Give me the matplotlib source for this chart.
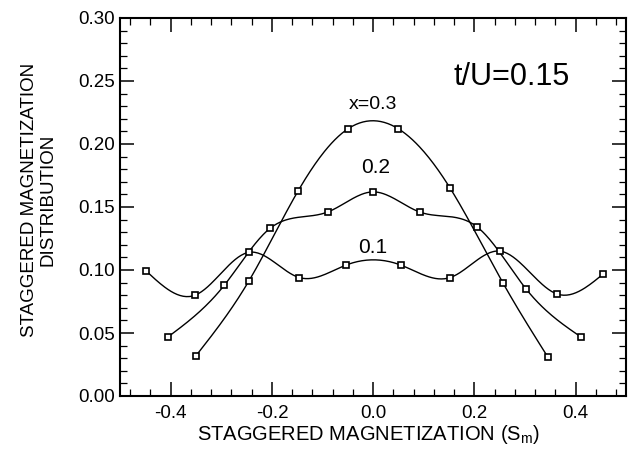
import numpy as np
import matplotlib
matplotlib.use('Agg')
import matplotlib.pyplot as plt
from matplotlib.ticker import MultipleLocator, AutoMinorLocator

plt.rcParams['font.family'] = ['Liberation Sans', 'DejaVu Sans']

# staggered magnetization distribution
sm_03 = [-0.350, -0.246, -0.148, -0.050, 0.050, 0.152, 0.256, 0.345]
p_03 = [0.032, 0.091, 0.163, 0.212, 0.212, 0.165, 0.090, 0.031]

sm_02 = [-0.405, -0.294, -0.204, -0.090, 0.000, 0.092, 0.206, 0.302, 0.410]
p_02 = [0.047, 0.088, 0.133, 0.146, 0.162, 0.146, 0.134, 0.085, 0.047]

sm_01 = [-0.448, -0.352, -0.246, -0.146, -0.053, 0.054, 0.152, 0.250, 0.363, 0.455]
p_01 = [0.099, 0.080, 0.114, 0.094, 0.104, 0.104, 0.094, 0.115, 0.081, 0.097]

curve_labels = ['x=0.3', '0.2', '0.1']


def smooth(x, y, n=300):
    """natural cubic spline through the points, for drawing the curve"""
    x = np.asarray(x, float)
    y = np.asarray(y, float)
    k = len(x)
    h = np.diff(x)
    A = np.zeros((k, k))
    r = np.zeros(k)
    A[0, 0] = A[-1, -1] = 1.0
    for i in range(1, k - 1):
        A[i, i - 1] = h[i - 1]
        A[i, i] = 2 * (h[i - 1] + h[i])
        A[i, i + 1] = h[i]
        r[i] = 3 * ((y[i + 1] - y[i]) / h[i] - (y[i] - y[i - 1]) / h[i - 1])
    c = np.linalg.solve(A, r)
    xs = np.linspace(x[0], x[-1], n)
    idx = np.clip(np.searchsorted(x, xs) - 1, 0, k - 2)
    dx = xs - x[idx]
    b = (y[idx + 1] - y[idx]) / h[idx] - h[idx] * (2 * c[idx] + c[idx + 1]) / 3
    d = (c[idx + 1] - c[idx]) / (3 * h[idx])
    ys = y[idx] + b * dx + c[idx] * dx ** 2 + d * dx ** 3
    return xs, ys


fig = plt.figure(figsize=(6.39, 4.5), dpi=100)
ax = fig.add_axes([0.188, 0.12, 0.792, 0.84])

for xs, ys in [(sm_03, p_03), (sm_02, p_02), (sm_01, p_01)]:
    cx, cy = smooth(xs, ys)
    ax.plot(cx, cy, color='black', linewidth=1.0)
    ax.plot(xs, ys, linestyle='none', marker='s', markersize=5,
            markerfacecolor='white', markeredgecolor='black', markeredgewidth=1.2)

ax.text(0.0, 0.231, curve_labels[0], fontsize=14, ha='center', va='center')
ax.text(0.004, 0.181, curve_labels[1], fontsize=15, ha='center', va='center')
ax.text(0.0, 0.118, curve_labels[2], fontsize=15, ha='center', va='center')
ax.text(0.274, 0.253, 't/U=0.15', fontsize=22, ha='center', va='center')

ax.set_xlim(-0.5, 0.5)
ax.set_ylim(0.0, 0.30)
ax.xaxis.set_major_locator(MultipleLocator(0.2))
ax.xaxis.set_minor_locator(AutoMinorLocator(5))
ax.yaxis.set_major_locator(MultipleLocator(0.05))
ax.yaxis.set_minor_locator(AutoMinorLocator(5))
ax.xaxis.set_major_formatter(plt.FuncFormatter(lambda v, p: f'{v:.1f}'))
ax.yaxis.set_major_formatter(plt.FuncFormatter(lambda v, p: f'{v:.2f}'))

ax.tick_params(which='both', direction='in', top=True, right=True, labelsize=13.5)
ax.tick_params(which='major', length=10, width=1.1)
ax.tick_params(which='minor', length=5, width=0.9)
ax.tick_params(axis='x', which='major', pad=6.5)
for s in ax.spines.values():
    s.set_linewidth(1.5)

ax.set_xlabel('STAGGERED MAGNETIZATION (S$_\\mathregular{m}$)', fontsize=14.5)
ax.xaxis.set_label_coords(0.49, -0.072)
ax.set_ylabel('STAGGERED MAGNETIZATION\nDISTRIBUTION', fontsize=13.5,
              linespacing=1.15)
ax.yaxis.set_label_coords(-0.125, 0.52)

fig.savefig('out.png', dpi=100)
